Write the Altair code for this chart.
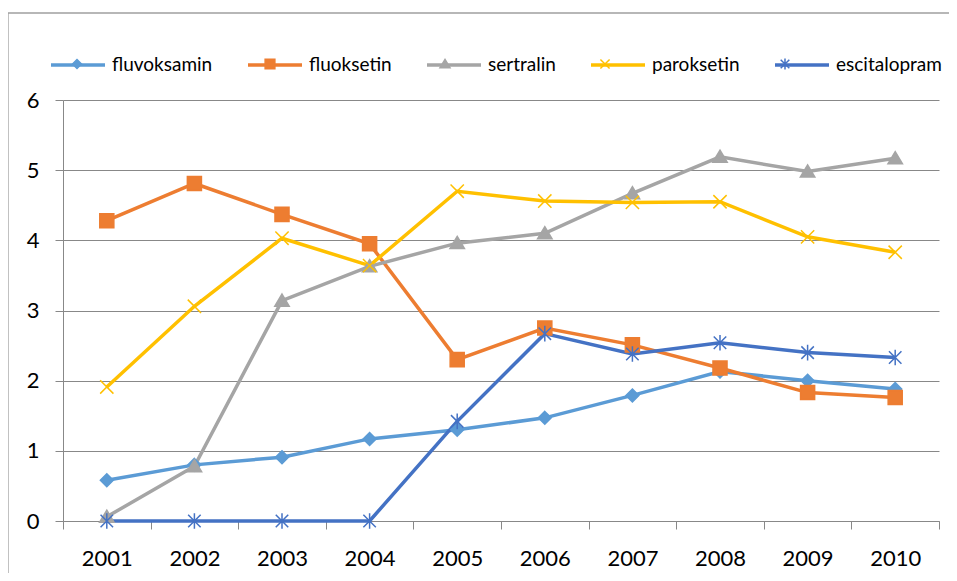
import altair as alt
import pandas as pd

years = ["2001", "2002", "2003", "2004", "2005", "2006", "2007", "2008", "2009", "2010"]
series = ["fluvoksamin", "fluoksetin", "sertralin", "paroksetin", "escitalopram"]
fluvoksamin = [0.58, 0.80, 0.91, 1.17, 1.30, 1.47, 1.79, 2.13, 2.00, 1.88]
fluoksetin = [4.28, 4.81, 4.37, 3.95, 2.30, 2.75, 2.51, 2.18, 1.83, 1.76]
sertralin = [0.06, 0.78, 3.14, 3.63, 3.96, 4.10, 4.67, 5.19, 4.98, 5.17]
paroksetin = [1.91, 3.06, 4.03, 3.64, 4.70, 4.56, 4.54, 4.55, 4.05, 3.83]
escitalopram = [0, 0, 0, 0, 1.42, 2.67, 2.38, 2.54, 2.40, 2.33]
colors = ["#5B9BD5", "#ED7D31", "#A5A5A5", "#FFC000", "#4472C4"]

values = [fluvoksamin, fluoksetin, sertralin, paroksetin, escitalopram]
rows = []
for s, vals in zip(series, values):
    for y, v in zip(years, vals):
        rows.append({"year": y, "series": s, "value": v})
df = pd.DataFrame(rows)

# marker shapes in small unit coords (legend box = 54px, 1 unit = 27px);
# invisible move-tos keep each legend symbol's extent at the full box.
ext = "M-1.03,0M1.03,0"
marker_paths = [
    ext + "M0,-0.165L0.165,0L0,0.165L-0.165,0Z",
    ext + "M-0.18,-0.18H0.18V0.18H-0.18Z",
    ext + "M0,-0.17L0.185,0.14L-0.185,0.14Z",
    ext + "M-0.17,-0.17L0.17,0.17M-0.17,0.17L0.17,-0.17",
    ext + "M-0.16,-0.16L0.16,0.16M-0.16,0.16L0.16,-0.16M0,-0.2V0.2",
]

W, H = 876, 421
GRID = "#888888"
LEG_SIZE = 2916
PT_SIZE = 6100

x_enc = alt.X(
    "year:N",
    sort=years,
    scale=alt.Scale(type="band", paddingInner=0, paddingOuter=0),
    axis=alt.Axis(
        title=None,
        tickBand="extent",
        domainColor=GRID,
        tickColor=GRID,
        tickSize=8,
        labelFontSize=22,
        labelColor="#000000",
        labelPadding=19,
        labelAngle=0,
        grid=False,
    ),
)
y_enc = alt.Y(
    "value:Q",
    scale=alt.Scale(domain=[0, 6], nice=False),
    axis=alt.Axis(
        title=None,
        values=[0, 1, 2, 3, 4, 5, 6],
        domainColor=GRID,
        tickColor=GRID,
        tickSize=8,
        gridColor=GRID,
        grid=True,
        labelFontSize=22,
        labelColor="#000000",
        labelPadding=16,
    ),
)

legend_common = dict(
    title=None,
    orient="none",
    direction="horizontal",
    legendX=-14,
    legendY=-64,
    padding=0,
    symbolSize=LEG_SIZE,
    labelOffset=5,
    columnPadding=28,
    labelFontSize=19,
    labelColor="#000000",
)


def marker_legend():
    return alt.Legend(
        symbolStrokeWidth=1.5, symbolFillColor="black", labelOpacity=0, **legend_common
    )


base = alt.Chart(df)

# line legend: data-derived domain (kept separate from the marker legend)
lines = base.mark_line(strokeWidth=3.5).encode(
    x=x_enc,
    y=y_enc,
    color=alt.Color(
        "series:N",
        sort=series,
        scale=alt.Scale(range=colors),
        legend=alt.Legend(symbolType="M-1,0H1", symbolStrokeWidth=3.5, **legend_common),
    ),
)

# marker legend: explicit domain, fill/stroke/shape merge into one legend
points = base.mark_point(opacity=1, size=PT_SIZE, strokeWidth=1.5).encode(
    x=x_enc,
    y=y_enc,
    fill=alt.Fill("series:N", scale=alt.Scale(domain=series, range=colors), legend=marker_legend()),
    stroke=alt.Stroke("series:N", scale=alt.Scale(domain=series, range=colors), legend=marker_legend()),
    shape=alt.Shape("series:N", scale=alt.Scale(domain=series, range=marker_paths), legend=marker_legend()),
)

frame = alt.Chart(alt.Data(values=[{}])).mark_rect(
    fill=None, stroke="#a0a0a0", strokeWidth=1.3
).encode(
    x=alt.value(-55), x2=alt.value(W + 40), y=alt.value(-87), y2=alt.value(H + 80)
)

chart = alt.layer(frame, lines, points).properties(
    width=W,
    height=H,
    autosize=alt.AutoSizeParams(type="none"),
    padding={"left": 55, "top": 92, "right": 10, "bottom": 52},
).configure(font="Lato").configure_view(stroke=None)

chart.save("out.html", embed_options={"renderer": "svg", "actions": False})
